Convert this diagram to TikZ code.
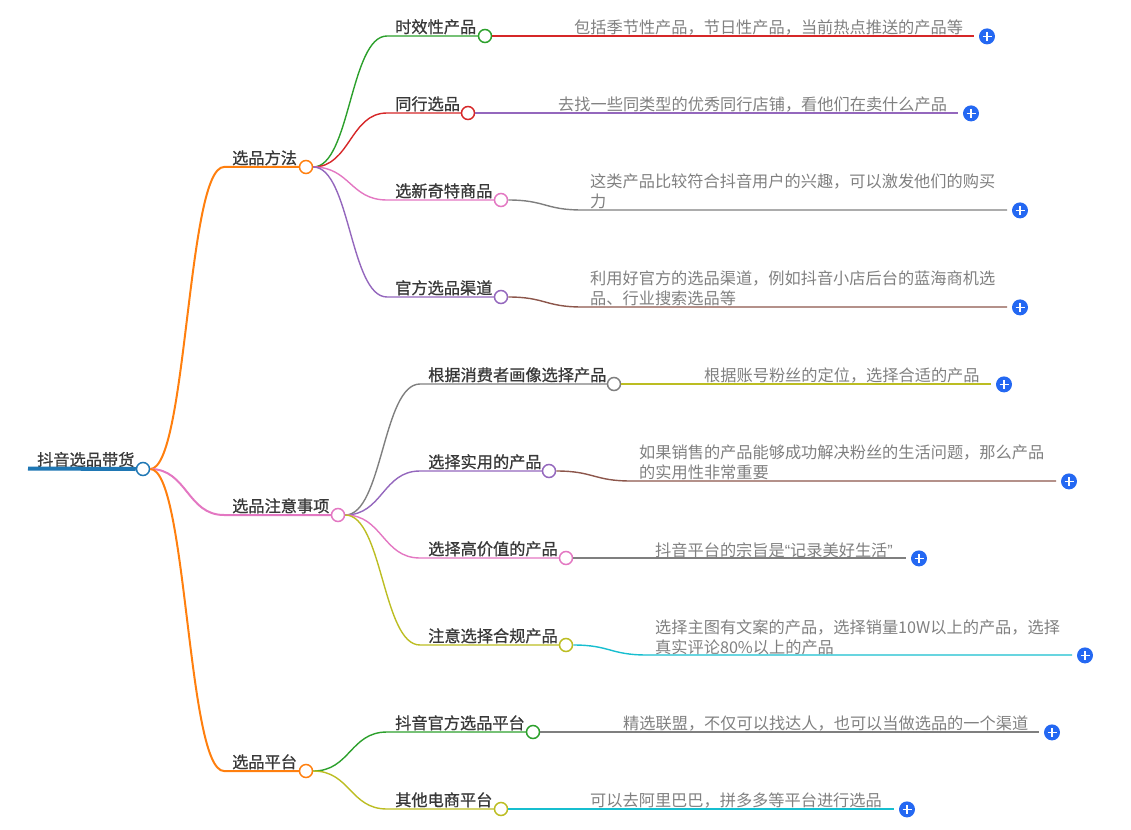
\documentclass[tikz,border=0pt]{standalone}
\usepackage{fontspec}
\usetikzlibrary{calc}
\setmainfont{Noto Sans CJK SC}
\newfontfamily\titlefont{Noto Sans CJK SC}[FakeBold=0.8]
\newfontfamily\quotefont{Liberation Sans}
\definecolor{cblue}{HTML}{1F77B4}
\definecolor{corange}{HTML}{FF7F0E}
\definecolor{cgreen}{HTML}{2CA02C}
\definecolor{cred}{HTML}{D62728}
\definecolor{cpurple}{HTML}{9467BD}
\definecolor{cbrown}{HTML}{8C564B}
\definecolor{cpink}{HTML}{E377C2}
\definecolor{cgray}{HTML}{7F7F7F}
\definecolor{colive}{HTML}{BCBD22}
\definecolor{ccyan}{HTML}{17BECF}
\definecolor{plusblue}{HTML}{2468F2}
\tikzset{
  knob/.style={circle,draw=#1,fill=white,line width=1.5pt,minimum size=13pt,inner sep=0pt},
  title/.style={anchor=west,inner sep=0pt,text=black!78,font=\fontsize{16.2}{20}\selectfont\titlefont},
  note/.style={anchor=west,inner sep=0pt,align=left,text=black!50,font=\fontsize{16.2}{20}\selectfont},
  link/.style={draw=#1,line width=1.4pt},
  thicklink/.style={draw=#1,line width=2pt},
  plusdot/.style={circle,fill=plusblue,minimum size=16pt,inner sep=0pt,
    path picture={\draw[white,line width=1.5pt]
      ([xshift=-4.5pt]path picture bounding box.center)--([xshift=4.5pt]path picture bounding box.center)
      ([yshift=-4.5pt]path picture bounding box.center)--([yshift=4.5pt]path picture bounding box.center);}}
}
% #1 link style, #2 name, #3 parent, #4 text x, #5 line y, #6 knob x, #7 colour, #8 text
\newcommand{\topicnode}[8]{%
  \node[title] (#2t) at (#4,#5-9.2) {#8};
  \node[knob=#7] (#2) at (#6,#5) {};
  \coordinate (#2s) at (#4-8,#5);
  \path let \p1=(#3.east),\p2=(#2s),\n1={0.5*(\x1+\x2)} in
    coordinate (#2a) at (\n1,\y1) coordinate (#2b) at (\n1,\y2);
  \draw[#1=#7] (#3.east) .. controls (#2a) and (#2b) .. (#2s) -- (#2.west);
}
% #1 name, #2 parent, #3 text x, #4 line y, #5 line end x, #6 colour, #7 text y, #8 text
\newcommand{\detailnode}[8]{%
  \node[note] (#1t) at (#3,#7+0.8) {#8};
  \coordinate (#1s) at (#3-8,#4);
  \coordinate (#1e) at (#5,#4);
  \node[plusdot] (#1p) at (#5+13,#4+0.4) {};
  \path let \p1=(#2.east),\p2=(#1s),\n1={0.5*(\x1+\x2)} in
    coordinate (#1a) at (\n1,\y1) coordinate (#1b) at (\n1,\y2);
  \draw[link=#6] (#2.east) .. controls (#1a) and (#1b) .. (#1s) -- (#1e);
}
\begin{document}
\begin{tikzpicture}[x=1pt,y=-1pt]
\useasboundingbox (0,0) rectangle (1131,829);
% root
\node[title] (roott) at (37,459.5) {抖音选品带货};
\node[knob=cblue] (root) at (143,469) {};
\coordinate (roots) at (28,468.5);
\draw[cblue,line width=4pt] (roots) -- (root.west);

\topicnode{thicklink}{ba}{root}{232}{167}{306}{corange}{选品方法}
\topicnode{thicklink}{bb}{root}{232}{515}{338}{cpink}{选品注意事项}
\topicnode{thicklink}{bc}{root}{232}{771}{306}{corange}{选品平台}

\topicnode{link}{aa}{ba}{395}{36}{485}{cgreen}{时效性产品}
\topicnode{link}{ab}{ba}{395}{113}{468}{cred}{同行选品}
\topicnode{link}{ac}{ba}{395}{200}{501}{cpink}{选新奇特商品}
\topicnode{link}{ad}{ba}{395}{297}{501}{cpurple}{官方选品渠道}

\topicnode{link}{ca}{bb}{428}{384}{614}{cgray}{根据消费者画像选择产品}
\topicnode{link}{cb}{bb}{428}{471}{549}{cpurple}{选择实用的产品}
\topicnode{link}{cc}{bb}{428}{558}{566}{cpink}{选择高价值的产品}
\topicnode{link}{cd}{bb}{428}{645}{566}{colive}{注意选择合规产品}

\topicnode{link}{da}{bc}{395}{732}{533}{cgreen}{抖音官方选品平台}
\topicnode{link}{db}{bc}{395}{809}{501}{colive}{其他电商平台}

\detailnode{aax}{aa}{574}{36}{974}{cred}{27}{包括季节性产品，节日性产品，当前热点推送的产品等}
\detailnode{abx}{ab}{558}{113}{958}{cpurple}{104}{去找一些同类型的优秀同行店铺，看他们在卖什么产品}
\detailnode{acx}{ac}{590}{210}{1007}{cgray}{191}{这类产品比较符合抖音用户的兴趣，可以激发他们的购买\\力}
\detailnode{adx}{ad}{590}{307}{1007}{cbrown}{288}{利用好官方的选品渠道，例如抖音小店后台的蓝海商机选\\品、行业搜索选品等}

\detailnode{cax}{ca}{704}{384}{991}{colive}{375}{根据账号粉丝的定位，选择合适的产品}
\detailnode{cbx}{cb}{639}{481}{1056}{cbrown}{462}{如果销售的产品能够成功解决粉丝的生活问题，那么产品\\的实用性非常重要}
\detailnode{ccx}{cc}{655}{558}{906}{cgray}{549}{抖音平台的宗旨是{\quotefont “}记录美好生活{\quotefont ”}}
\detailnode{cdx}{cd}{655}{655}{1072}{ccyan}{637}{选择主图有文案的产品，选择销量10W以上的产品，选择\\真实评论80\%以上的产品}

\detailnode{dax}{da}{623}{732}{1039}{cgray}{723}{精选联盟，不仅可以找达人，也可以当做选品的一个渠道}
\detailnode{dbx}{db}{590}{809}{894}{ccyan}{800}{可以去阿里巴巴，拼多多等平台进行选品}
\end{tikzpicture}
\end{document}
